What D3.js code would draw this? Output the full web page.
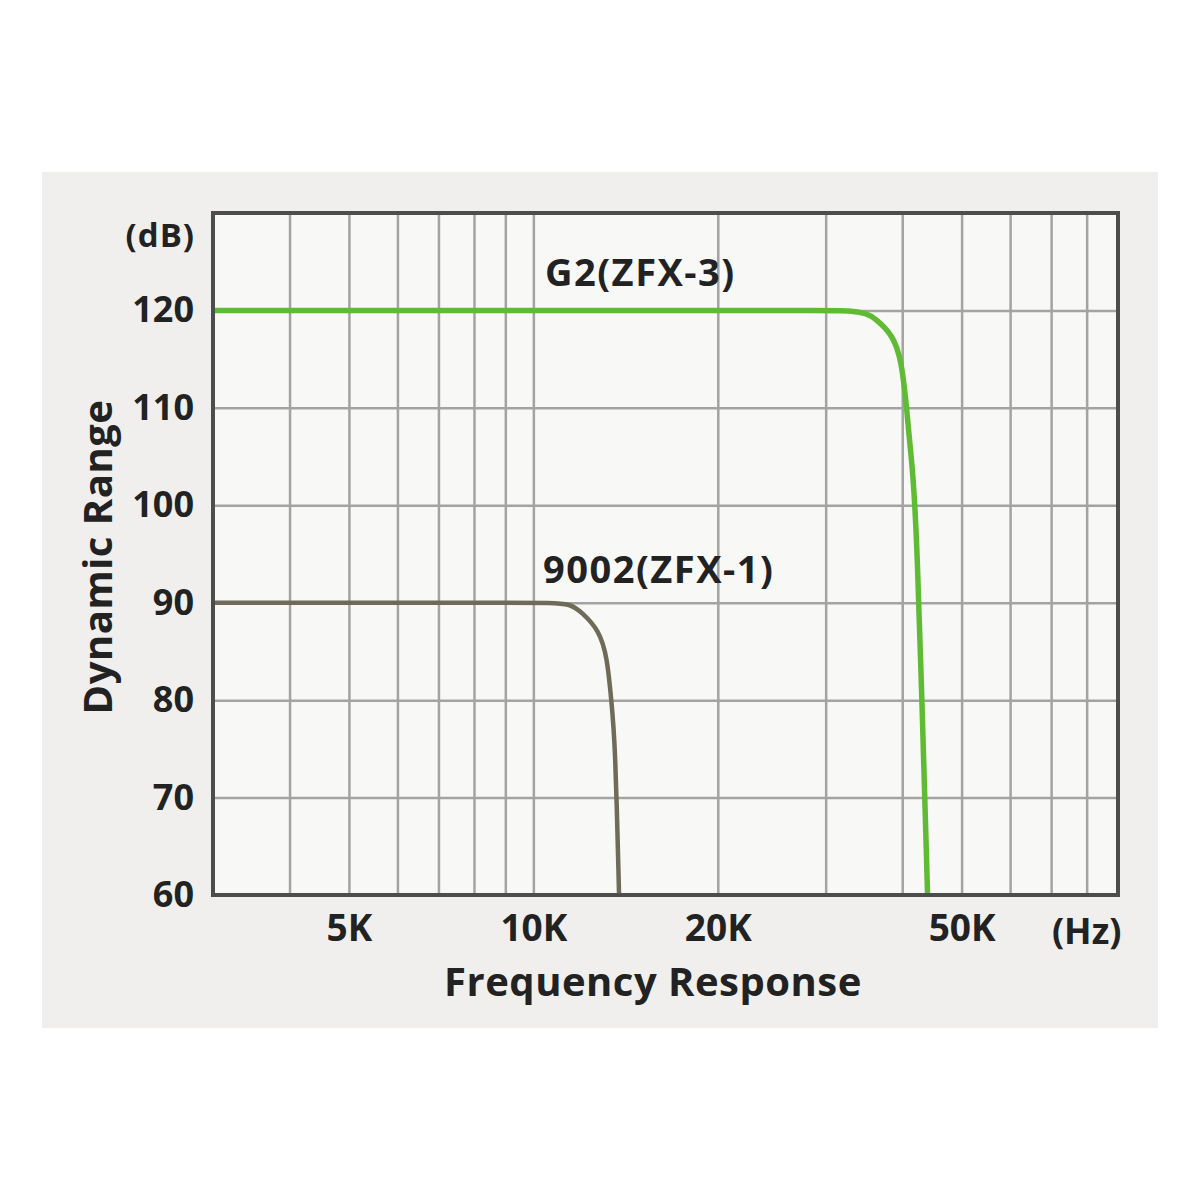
<!DOCTYPE html>
<html>
<head>
  <meta charset="utf-8">
  <title>Dynamic Range vs Frequency Response</title>
  <script src="https://cdn.jsdelivr.net/npm/d3@7"></script>
  <style>
    body { margin: 0; background: #fff; }
    svg text { font-family: "Open Sans", "DejaVu Sans", sans-serif; font-weight: 700; fill: #222; }
    .grid line { stroke: #a3a3a3; stroke-width: 2.5; }
    .grid path { display: none; }
    .tick-labels path, .tick-labels line { display: none; }
  </style>
</head>
<body>
<svg id="chart" width="1200" height="1200"></svg>
<script>
  // values
  var freqG2 = [3000, 20000, 30000, 32800, 35000, 36100, 38600, 39900, 40700, 41400, 42200, 44000];
  var dbG2 = [120, 120, 120, 120, 119.7, 119.2, 117.5, 114.9, 109.8, 104.6, 99.5, 60];

  var freq9002 = [3000, 9500, 10600, 11500, 12000, 12800, 13200, 13400, 13600, 13800];
  var db9002 = [90, 90, 90, 89.9, 89.0, 87.2, 84.4, 80.0, 75.9, 60];

  var gridFreqs = [4000, 5000, 6000, 7000, 8000, 9000, 10000, 20000, 30000, 40000, 50000, 60000, 70000, 80000];
  var xTicks = [5000, 10000, 20000, 50000];
  var xTickLabels = ['5K', '10K', '20K', '50K'];
  var yTicks = [60, 70, 80, 90, 100, 110, 120];

  var svg = d3.select('#chart');

  var plotLeft = 213, plotRight = 1118, plotTop = 213, plotBottom = 895;

  var x = d3.scaleLog().domain([3000, 90000]).range([plotLeft, plotRight]);
  var y = d3.scaleLinear().domain([60, 130]).range([plotBottom, plotTop]);

  // light grey panel behind everything
  svg.append('rect')
      .attr('x', 42).attr('y', 172)
      .attr('width', 1116).attr('height', 856)
      .attr('fill', '#f0efed');

  svg.append('rect')
      .attr('x', plotLeft).attr('y', plotTop)
      .attr('width', plotRight - plotLeft).attr('height', plotBottom - plotTop)
      .attr('fill', '#f8f8f7');

  // grid
  svg.append('g').attr('class', 'grid')
      .attr('transform', 'translate(0,' + plotBottom + ')')
      .call(d3.axisBottom(x).tickValues(gridFreqs).tickSize(-(plotBottom - plotTop)).tickFormat(''));

  svg.append('g').attr('class', 'grid')
      .attr('transform', 'translate(' + plotLeft + ',0)')
      .call(d3.axisLeft(y).tickValues(yTicks.slice(1)).tickSize(-(plotRight - plotLeft)).tickFormat(''));

  // tick labels
  var xAxis = svg.append('g').attr('class', 'tick-labels')
      .attr('transform', 'translate(0,' + plotBottom + ')')
      .call(d3.axisBottom(x).tickValues(xTicks).tickSize(0).tickPadding(20)
        .tickFormat(function(d, i) { return xTickLabels[i]; }));
  xAxis.selectAll('text').style('font-size', '37px').attr('fill', '#222');

  var yAxis = svg.append('g').attr('class', 'tick-labels')
      .attr('transform', 'translate(' + plotLeft + ',0)')
      .call(d3.axisLeft(y).tickValues(yTicks).tickSize(0).tickPadding(19));
  yAxis.selectAll('text').style('font-size', '36px').attr('fill', '#222');

  // curves - basis spline stays inside the read points, so no bumps at the knees
  var line = d3.line()
      .x(function(d) { return x(d[0]); })
      .y(function(d) { return y(d[1]); })
      .curve(d3.curveBasis);

  svg.append('path')
      .datum(d3.zip(freq9002, db9002))
      .attr('d', line)
      .attr('fill', 'none')
      .attr('stroke', '#6f6b58')
      .attr('stroke-width', 4.5);

  svg.append('path')
      .datum(d3.zip(freqG2, dbG2))
      .attr('d', line)
      .attr('fill', 'none')
      .attr('stroke', '#5fbb34')
      .attr('stroke-width', 5.5);

  // frame
  svg.append('rect')
      .attr('x', plotLeft).attr('y', plotTop)
      .attr('width', plotRight - plotLeft).attr('height', plotBottom - plotTop)
      .attr('fill', 'none')
      .attr('stroke', '#4d4d4d')
      .attr('stroke-width', 4);

  // series labels
  svg.append('text')
      .attr('x', 545).attr('y', 286)
      .style('font-size', '38px')
      .style('letter-spacing', '1.5px')
      .text('G2(ZFX-3)');

  svg.append('text')
      .attr('x', 543).attr('y', 583)
      .style('font-size', '38px')
      .style('letter-spacing', '1.5px')
      .text('9002(ZFX-1)');

  // units and axis titles
  svg.append('text')
      .attr('x', 195).attr('y', 247)
      .attr('text-anchor', 'end')
      .style('font-size', '33px')
      .style('letter-spacing', '1px')
      .attr('fill', '#333')
      .text('(dB)');

  svg.append('text')
      .attr('x', x(80000)).attr('y', 944)
      .attr('text-anchor', 'middle')
      .style('font-size', '36px')
      .attr('fill', '#333')
      .text('(Hz)');

  svg.append('text')
      .attr('x', 653).attr('y', 996)
      .attr('text-anchor', 'middle')
      .style('font-size', '40px')
      .style('letter-spacing', '0.5px')
      .text('Frequency Response');

  svg.append('text')
      .attr('transform', 'translate(112,557) rotate(-90)')
      .attr('text-anchor', 'middle')
      .style('font-size', '40px')
      .style('letter-spacing', '0.5px')
      .text('Dynamic Range');
</script>
</body>
</html>
